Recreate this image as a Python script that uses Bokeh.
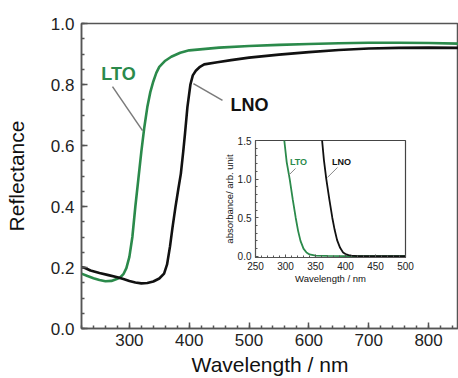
import numpy as np
from bokeh.plotting import figure
from bokeh.models import Range1d, LinearAxis, FixedTicker
from bokeh.core.properties import value
from bokeh.embed import file_html
from bokeh.resources import INLINE

# ---------------- data: main reflectance spectra ----------------
lto_wl = [220, 230, 240, 250, 260, 270, 280, 285, 290, 295, 300, 305, 310, 315, 320,
          325, 330, 335, 340, 345, 350, 360, 370, 385, 400, 450, 500, 550, 600, 650,
          700, 750, 800, 850]
lto_refl = [0.180, 0.172, 0.165, 0.159, 0.155, 0.156, 0.163, 0.168, 0.178, 0.198, 0.235,
            0.300, 0.400, 0.490, 0.580, 0.660, 0.726, 0.775, 0.810, 0.838, 0.858, 0.878,
            0.891, 0.904, 0.912, 0.921, 0.926, 0.930, 0.933, 0.935, 0.937, 0.937, 0.936,
            0.934]

lno_wl = [220, 225, 235, 250, 265, 280, 290, 300, 310, 320, 330, 340, 350, 358, 363,
          368, 372, 377, 382, 386, 390, 393, 397, 402, 406, 411, 418, 425, 447, 470,
          500, 550, 600, 650, 700, 750, 800, 850]
lno_refl = [0.201, 0.199, 0.190, 0.182, 0.175, 0.168, 0.162, 0.156, 0.151, 0.148, 0.149,
            0.154, 0.164, 0.180, 0.210, 0.270, 0.330, 0.398, 0.460, 0.507, 0.580, 0.640,
            0.726, 0.800, 0.830, 0.845, 0.858, 0.866, 0.873, 0.880, 0.888, 0.898, 0.906,
            0.913, 0.918, 0.920, 0.921, 0.920]

# ---------------- data: inset absorbance spectra ----------------
lto_abs_wl = [298, 302, 307, 312, 317, 321, 325, 330, 335, 340, 350, 370, 400, 450, 500]
lto_abs = [1.50, 1.22, 1.00, 0.74, 0.50, 0.33, 0.20, 0.10, 0.05, 0.025, 0.010, 0.005,
           0.003, 0.002, 0.002]
lno_abs_wl = [361, 364, 368, 373, 378, 382, 386, 391, 396, 400, 405, 410, 420, 450, 500]
lno_abs = [1.50, 1.25, 1.00, 0.74, 0.50, 0.34, 0.21, 0.11, 0.05, 0.03, 0.015, 0.008,
           0.004, 0.002, 0.002]

# ---------------- ticks / labels ----------------
x_ticks = [300, 400, 500, 600, 700, 800]
x_tick_labels = ["300", "400", "500", "600", "700", "800"]
y_ticks = [0.0, 0.2, 0.4, 0.6, 0.8, 1.0]
y_tick_labels = ["0.0", "0.2", "0.4", "0.6", "0.8", "1.0"]
ix_ticks = [250, 300, 350, 400, 450, 500]
ix_tick_labels = ["250", "300", "350", "400", "450", "500"]
iy_ticks = [0.0, 0.5, 1.0, 1.5]
iy_tick_labels = ["0.0", "0.5", "1.0", "1.5"]
series_names = ["LTO", "LNO"]

GREEN = "#2b8a4b"
BLACK = "#111111"
AX = "#555555"
FONT = "Liberation Sans"

W, H = 458, 378
FL, FR, FT, FB = 81, 458, 23, 328      # frame in screen px

p = figure(width=W, height=H, x_range=Range1d(220, 850), y_range=Range1d(0, 1.0),
           output_backend="svg", toolbar_location=None,
           min_border_left=FL, min_border_right=W - FR, min_border_top=FT,
           min_border_bottom=H - FB)
p.background_fill_color = "white"
p.border_fill_color = "white"
p.outline_line_color = AX
p.outline_line_width = 1.5
p.xgrid.visible = False
p.ygrid.visible = False

# inset ranges (inset box in screen px: 255..405 x, 140..257 y)
IL, IR, IT, IB = 255, 405, 140, 257
ix0, ix1 = 250, 500
iy0, iy1 = -0.015, 1.5
sx = (ix1 - ix0) / (IR - IL)
sy = (iy1 - iy0) / (IB - IT)
p.extra_x_ranges = {"ix": Range1d(ix0 - (IL - FL) * sx, ix1 + (FR - IR) * sx)}
p.extra_y_ranges = {"iy": Range1d(iy0 - (FB - IB) * sy, iy1 + (IT - FT) * sy)}


def style_axis(ax, size, lsize, tick_in, minor_in, standoff, lstandoff, lw):
    ax.axis_line_color = AX
    ax.axis_line_width = lw
    ax.major_tick_line_color = AX
    ax.minor_tick_line_color = AX
    ax.major_tick_line_width = lw
    ax.minor_tick_line_width = lw
    ax.major_tick_in = tick_in
    ax.major_tick_out = 0
    ax.minor_tick_in = minor_in
    ax.minor_tick_out = 0
    ax.major_label_text_font = FONT
    ax.major_label_text_font_size = size
    ax.major_label_text_color = "#222222"
    ax.major_label_standoff = standoff
    ax.axis_label_text_font = FONT
    ax.axis_label_text_font_size = lsize
    ax.axis_label_text_font_style = "normal"
    ax.axis_label_text_color = "#111111"
    ax.axis_label_standoff = lstandoff


xa = p.xaxis[0]
xa.ticker = FixedTicker(ticks=x_ticks, minor_ticks=list(np.arange(220, 851, 20)))
xa.major_label_overrides = dict(zip(x_ticks, x_tick_labels))
xa.axis_label = "Wavelength / nm"
style_axis(xa, "17px", "21px", 6, 3, 5, 4, 1.5)

ya = p.yaxis[0]
ya.ticker = FixedTicker(ticks=y_ticks, minor_ticks=list(np.arange(0, 1.001, 0.05)))
ya.major_label_overrides = dict(zip(y_ticks, y_tick_labels))
ya.axis_label = "Reflectance"
style_axis(ya, "17px", "21px", 6, 3, 7, 20, 1.5)

# main curves
p.line(lto_wl, lto_refl, line_color=GREEN, line_width=2.6)
p.line(lno_wl, lno_refl, line_color=BLACK, line_width=2.6)

# main annotations
p.segment(x0=[271.8, 407.0], y0=[0.793, 0.803], x1=[322.0, 455.6], y1=[0.649, 0.748],
          line_color="#7a7a7a", line_width=1.5)
p.text(x=[281.8, 500.8], y=[0.833, 0.734], text=series_names,
       text_color=[GREEN, BLACK], text_font=value(FONT), text_font_size=value("18px"),
       text_font_style="bold", text_align="center", text_baseline="middle")

# inset frame
p.quad(left=[ix0], right=[ix1], bottom=[iy0], top=[iy1], x_range_name="ix",
       y_range_name="iy", fill_color="white", line_color="#444444", line_width=1.2)

# inset curves
p.line(lto_abs_wl, lto_abs, line_color=GREEN, line_width=1.8, x_range_name="ix",
       y_range_name="iy")
p.line(lno_abs_wl, lno_abs, line_color=BLACK, line_width=1.8, x_range_name="ix",
       y_range_name="iy")

# inset annotations
p.segment(x0=[316.7, 386.7], y0=[1.138, 1.151], x1=[305.0, 370.0], y1=[1.047, 1.022],
          line_color="#8a8a8a", line_width=1.0, x_range_name="ix", y_range_name="iy")
p.text(x=[321.7, 393.3], y=[1.228, 1.216], text=series_names,
       text_color=[GREEN, BLACK], text_font=value(FONT), text_font_size=value("9px"),
       text_font_style="bold", text_align="center", text_baseline="middle",
       x_range_name="ix", y_range_name="iy")

# inset axes
ixa = LinearAxis(x_range_name="ix", y_range_name="iy", fixed_location=iy0,
                 bounds=(ix0, ix1), axis_label="Wavelength / nm",
                 ticker=FixedTicker(ticks=ix_ticks,
                                    minor_ticks=list(np.arange(250, 501, 10))))
ixa.major_label_overrides = dict(zip(ix_ticks, ix_tick_labels))
style_axis(ixa, "10px", "9.5px", 3, 2, 4, 0, 1.0)
p.add_layout(ixa, "below")

iya = LinearAxis(x_range_name="ix", y_range_name="iy", fixed_location=ix0,
                 bounds=(iy0, iy1), axis_label="absorbance/ arb. unit",
                 ticker=FixedTicker(ticks=iy_ticks,
                                    minor_ticks=list(np.arange(0, 1.501, 0.1))))
iya.major_label_overrides = dict(zip(iy_ticks, iy_tick_labels))
style_axis(iya, "10px", "9.5px", 3, 2, 4, 0, 1.0)
p.add_layout(iya, "left")

open("out.html", "w").write(file_html(p, INLINE))
